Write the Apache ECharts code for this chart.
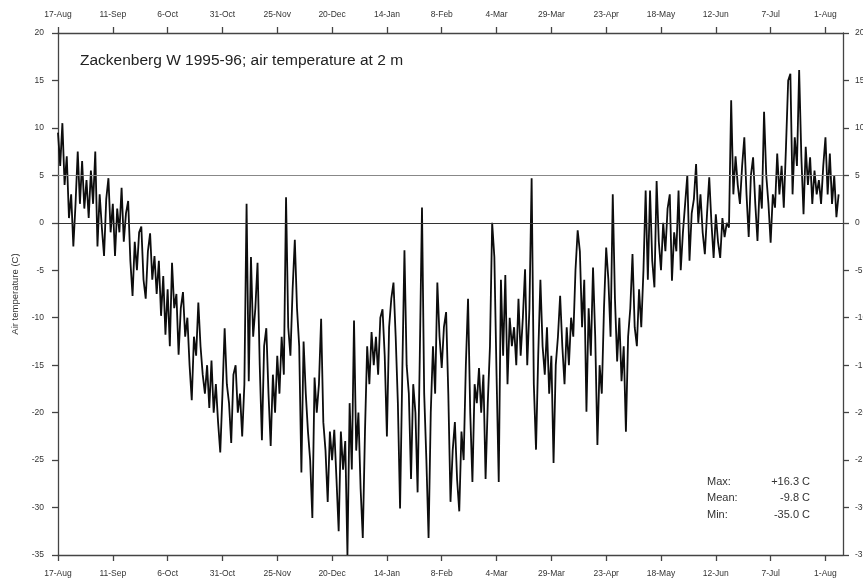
<!DOCTYPE html>
<html>
<head>
<meta charset="utf-8">
<script src="https://cdn.jsdelivr.net/npm/echarts@6/dist/echarts.min.js"></script>
<style>
html,body{margin:0;padding:0;background:#fff;}
#c{width:863px;height:583px;}
</style>
</head>
<body>
<div id="c"></div>
<script>
// Daily air temperature (C), day 0 = 17-Aug-1995
const temps = [
 9.5, 6, 10.5, 4, 7, 0.5, 3, -2.5, 2, 7.5,
 2, 6.5, 1.5, 4.5, 0.5, 5.5, 2, 7.5, -2.5, 3,
 -0.5, -3.5, 2.5, 4.7, -1, 2, -3.5, 1.5, -1, 3.7,
 -2, 1, 2.3, -4, -7.7, -2, -5, -1, -0.4, -6,
 -8, -3, -1.1, -6, -3.5, -7.5, -4, -9.8, -5.6, -11.8,
 -7, -13, -4.2, -9, -7.5, -13.9, -9, -7.3, -12, -10,
 -15, -18.7, -12, -14, -8.4, -13, -16, -18, -15, -19.5,
 -14.5, -20, -17, -21, -24.2, -18, -11.1, -17, -19, -23.2,
 -16, -15, -20, -18, -22.5, -17, 2, -16.7, -3.6, -12,
 -9, -4.2, -15, -22.9, -13, -11.1, -18, -23.5, -16, -20,
 -14, -18, -12, -16, 2.7, -11, -14, -7, -1.8, -9,
 -13, -26.3, -12.5, -18, -22, -25, -31.1, -16.3, -20, -17,
 -10.1, -21, -24, -29.4, -22, -25, -21.8, -27, -32.5, -22,
 -26, -23, -35, -19, -26, -10.3, -24, -20, -28, -33.2,
 -22, -13, -17, -11.5, -15, -12, -16, -10, -9.1, -14,
 -22.5, -11, -8, -6.3, -12, -19, -30.1, -16, -2.9, -15,
 -18, -27, -17, -20, -28.4, -14, 1.6, -18, -25, -33.2,
 -20, -13, -18, -6.3, -12, -15.3, -11, -9.4, -18, -29.4,
 -24, -21, -27, -30.4, -22, -25, -15, -8, -20, -27.3,
 -17, -19, -15.3, -20, -16, -27, -19, -13, 0, -3.6,
 -16, -27.3, -6, -14, -5.5, -17, -10, -13, -11, -15,
 -8, -14, -10, -4.9, -15, -9, 4.7, -17, -23.9, -14,
 -6, -13, -16, -11, -18, -14, -25.3, -15, -12, -7.7,
 -13, -17, -11, -15, -10, -12, -5, -0.8, -3, -11,
 -6, -19.9, -9, -14, -4.7, -12, -23.4, -15, -18, -9,
 -2.6, -6, -12, 3, -8, -14.6, -10, -16.7, -13, -22,
 -12, -9, -3.3, -11, -13, -7, -11, -5, 3.4, -6,
 3.4, -4, -6.8, 4.4, -2, -5, 0, -3, 1.5, 3,
 -6.1, -1, -3, 3.4, -5, -1, 2, 5, -4, 1,
 2.5, 6.2, 0, 3, -1, -3.3, 1, 4.8, 0, -3.7,
 0.9, -2, -3.7, 0.5, -1.5, 0, -0.5, 12.9, 3, 7,
 4, 2, 6, 9, 3, -1.5, 5, 6.9, 2, -1.9,
 4, 1.5, 11.7, 5, 2, -2.1, 3, 1.6, 7.3, 3,
 6, 1.6, 8, 15, 15.7, 3, 9, 6, 16.1, 7,
 0.9, 8, 4, 6.9, 2, 5.5, 3, 4.5, 2, 6,
 9, 3, 7.3, 2, 5, 0.6, 3
];
const tickLabels = ['17-Aug','11-Sep','6-Oct','31-Oct','25-Nov','20-Dec','14-Jan','8-Feb','4-Mar','29-Mar','23-Apr','18-May','12-Jun','7-Jul','1-Aug'];
const refLines = [5, 0];
const titleText = 'Zackenberg W 1995-96; air temperature at 2 m';
const statNames = ['Max:', 'Mean:', 'Min:'];
const statValues = ['+16.3 C', '-9.8 C', '-35.0 C'];

const seriesData = temps.map((v, i) => [i, v]);
const FONT = 'Liberation Sans, Arial, sans-serif';

function xFmt(v) {
  const k = Math.round(v / 25);
  return (Math.abs(v - k * 25) < 1e-6 && tickLabels[k] !== undefined) ? tickLabels[k] : '';
}
const axisLineStyle = { color: '#444', width: 1.3 };
const labelStyle = { color: '#333', fontSize: 8.5, fontFamily: FONT };

const xBase = {
  type: 'value', min: 0, max: 358, interval: 25,
  axisLine: { show: true, onZero: false, lineStyle: axisLineStyle },
  axisTick: { show: true, length: 6, lineStyle: axisLineStyle },
  axisLabel: Object.assign({ formatter: xFmt, showMaxLabel: false, margin: 14 }, labelStyle),
  splitLine: { show: false }
};
const yBase = {
  type: 'value', min: -35, max: 20, interval: 5,
  axisLine: { show: true, onZero: false, lineStyle: axisLineStyle },
  axisTick: { show: true, length: 6, lineStyle: axisLineStyle },
  axisLabel: Object.assign({ margin: 14 }, labelStyle),
  splitLine: { show: false }
};

const chart = echarts.init(document.getElementById('c'), null, { renderer: 'canvas' });
const graphics = [{
  type: 'text', left: 80, top: 53,
  style: { text: titleText, font: '15.5px ' + FONT, fill: '#222' }
}];
statNames.forEach((n, i) => {
  graphics.push({ type: 'text', left: 707, top: 476 + i * 16.5,
    style: { text: n, font: '11px ' + FONT, fill: '#333' } });
  graphics.push({ type: 'text', right: 863 - 810, top: 476 + i * 16.5,
    style: { text: statValues[i], font: '11px ' + FONT, fill: '#333', textAlign: 'right' } });
});

chart.setOption({
  animation: false,
  backgroundColor: '#fff',
  grid: { left: 58, right: 20, top: 33, bottom: 28, containLabel: false, outerBoundsMode: 'none' },
  xAxis: [
    Object.assign({}, xBase, { position: 'bottom' }),
    Object.assign({}, xBase, { position: 'top' })
  ],
  yAxis: [
    Object.assign({}, yBase, { position: 'left', name: 'Air temperature (C)', nameLocation: 'middle', nameGap: 36,
      nameTextStyle: { fontSize: 9.5, color: '#333', fontFamily: FONT } }),
    Object.assign({}, yBase, { position: 'right', axisLabel: Object.assign({ margin: 12 }, labelStyle) })
  ],
  graphic: graphics,
  series: [{
    type: 'line',
    xAxisIndex: 0, yAxisIndex: 0,
    data: seriesData,
    showSymbol: false,
    symbol: 'none',
    lineStyle: { color: '#0d0d0d', width: 1.8 },
    markLine: {
      silent: true, symbol: 'none', label: { show: false },
      data: [
        { yAxis: refLines[0], lineStyle: { color: '#888', width: 1.2, type: 'solid' } },
        { yAxis: refLines[1], lineStyle: { color: '#333', width: 1.2, type: 'solid' } }
      ]
    },
    z: 3
  }]
});
</script>
</body>
</html>
